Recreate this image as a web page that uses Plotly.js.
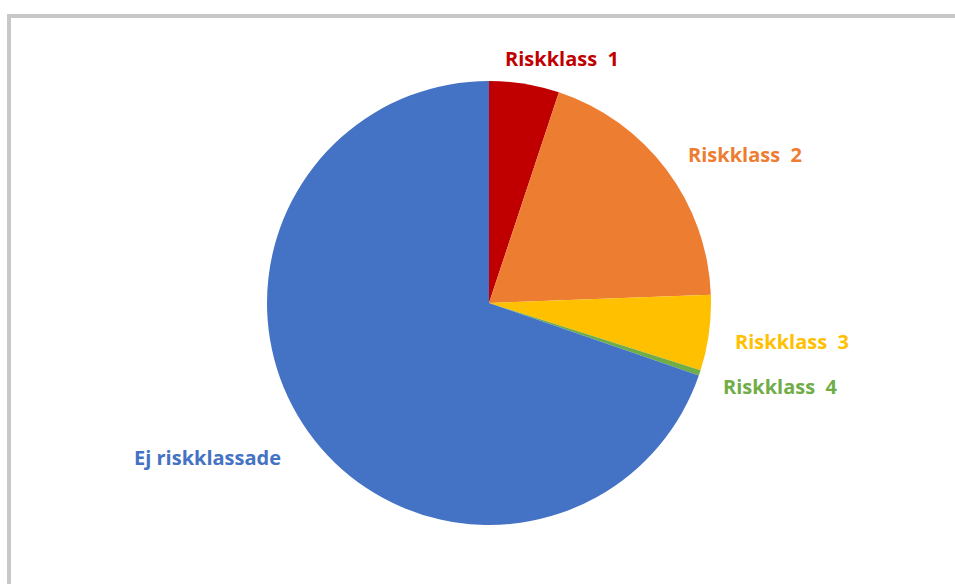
<!DOCTYPE html>
<html><head><meta charset="utf-8">
<script src="https://cdn.plot.ly/plotly-3.0.1.min.js"></script>
<style>html,body{margin:0;padding:0;background:#fff;}#chart{width:955px;height:584px;}</style>
</head><body><div id="chart"></div>
<script>
var categories = ["Riskklass  1", "Riskklass  2", "Riskklass  3", "Riskklass  4", "Ej riskklassade"];
var values = [5.1, 19.3, 5.5, 0.4, 69.7];
var colors = ["#C00000", "#ED7D31", "#FFC000", "#70AD47", "#4472C4"];
// label anchor positions (paper fractions)
var labelX = [0.588, 0.780, 0.829, 0.817, 0.217];
var labelY = [0.900, 0.736, 0.416, 0.339, 0.217];

var W = 955, H = 584;
var annotations = categories.map(function(c, i){
  return {text: "<b>" + c + "</b>", x: labelX[i], y: labelY[i], xref: "paper", yref: "paper",
    showarrow: false, xanchor: "center", yanchor: "middle",
    font: {family: "'Open Sans', sans-serif", size: 20, color: colors[i]}};
});

var trace = {
  type: "pie", labels: categories, values: values,
  marker: {colors: colors, line: {width: 0}},
  sort: false, direction: "clockwise", rotation: 0,
  textinfo: "none", hoverinfo: "label+percent",
  domain: {x: [267/W, 711/W], y: [59/H, 503/H]},
  showlegend: false
};
var layout = {
  width: W, height: H, margin: {l:0, r:0, t:0, b:0},
  paper_bgcolor: "#fff", plot_bgcolor: "#fff",
  annotations: annotations,
  shapes: [
    {type: "line", xref: "paper", yref: "paper", x0: 7/W, x1: 1, y0: 1-16/H, y1: 1-16/H, line: {color: "#c8c8c8", width: 4}},
    {type: "line", xref: "paper", yref: "paper", x0: 9/W, x1: 9/W, y0: 0, y1: 1-14/H, line: {color: "#c8c8c8", width: 4}}
  ]
};
Plotly.newPlot("chart", [trace], layout, {displayModeBar: false, staticPlot: true});
</script></body></html>
